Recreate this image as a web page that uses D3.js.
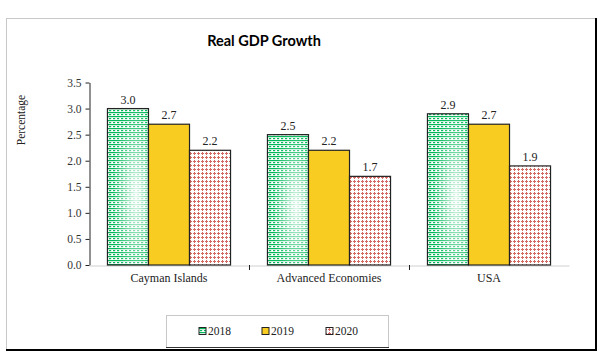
<!DOCTYPE html>
<html><head><meta charset="utf-8">
<script src="https://cdn.jsdelivr.net/npm/d3@7"></script>
<style>body{margin:0;background:#fff}svg{display:block}</style>
</head><body>
<script>
const categories = ["Cayman Islands", "Advanced Economies", "USA"];
const seriesNames = ["2018", "2019", "2020"];
const values2018 = [3.0, 2.5, 2.9];
const values2019 = [2.7, 2.2, 2.7];
const values2020 = [2.2, 1.7, 1.9];
const yTicks = [0, 0.5, 1.0, 1.5, 2.0, 2.5, 3.0, 3.5];
const seriesValues = [values2018, values2019, values2020];

const W = 605, H = 359;
const svg = d3.select("body").append("svg").attr("width", W).attr("height", H);
const defs = svg.append("defs");

// 2018 pattern: green lines + dashes
const p1 = defs.append("pattern").attr("id", "p2018").attr("patternUnits", "userSpaceOnUse").attr("width", 4).attr("height", 4);
p1.append("rect").attr("width", 4).attr("height", 4).attr("fill", "#fff");
p1.append("rect").attr("x", 0).attr("y", 0).attr("width", 4).attr("height", 1.2).attr("fill", "#00b858");
p1.append("rect").attr("x", 0).attr("y", 2).attr("width", 2.2).attr("height", 1.2).attr("fill", "#00b858");
const g1 = defs.append("radialGradient").attr("id", "glow").attr("cx", "0.7").attr("cy", "0.55").attr("r", "0.6");
g1.append("stop").attr("offset", "0").attr("stop-color", "#fff").attr("stop-opacity", 0.9);
g1.append("stop").attr("offset", "0.6").attr("stop-color", "#fff").attr("stop-opacity", 0.35);
g1.append("stop").attr("offset", "1").attr("stop-color", "#fff").attr("stop-opacity", 0);

// 2020 pattern: red crosses
const p3 = defs.append("pattern").attr("id", "p2020").attr("patternUnits", "userSpaceOnUse").attr("width", 4).attr("height", 4);
p3.append("rect").attr("width", 4).attr("height", 4).attr("fill", "#fff");
p3.append("rect").attr("x", 0).attr("y", 1).attr("width", 3).attr("height", 1).attr("fill", "#d46a66");
p3.append("rect").attr("x", 1).attr("y", 0).attr("width", 1).attr("height", 3).attr("fill", "#d46a66");

const fills = ["url(#p2018)", "#f9cc22", "url(#p2020)"];

// frame
svg.append("line").attr("x1", 6).attr("x2", 597).attr("y1", 18.5).attr("y2", 18.5).attr("stroke", "#c8c8c8");
svg.append("line").attr("x1", 6.5).attr("x2", 6.5).attr("y1", 18).attr("y2", 350).attr("stroke", "#c8c8c8");
svg.append("line").attr("x1", 596).attr("x2", 596).attr("y1", 18).attr("y2", 351).attr("stroke", "#000").attr("stroke-width", 2);
svg.append("line").attr("x1", 6).attr("x2", 597).attr("y1", 350).attr("y2", 350).attr("stroke", "#000").attr("stroke-width", 2);

// title
svg.append("text").attr("x", 264).attr("y", 46).attr("text-anchor", "middle")
  .attr("font-family", "Lato, 'Open Sans', sans-serif").attr("font-weight", "bold").attr("font-size", 14.5)
  .attr("fill", "#000").text("Real GDP Growth");

const x0 = d3.scaleBand().domain(categories).range([89, 569]).paddingInner(0).paddingOuter(0);
const x1 = d3.scaleBand().domain(seriesNames).range([0, x0.bandwidth()]).paddingInner(0).paddingOuter(0.45);
const y = d3.scaleLinear().domain([0, 3.5]).range([265, 82.5]);

const serif = "'Liberation Serif', 'DejaVu Serif', serif";

// y axis
const yAxis = svg.append("g").attr("transform", "translate(89.5,0)")
  .call(d3.axisLeft(y).tickValues(yTicks).tickFormat(d3.format(".1f")).tickSize(4).tickSizeOuter(0));
yAxis.select(".domain").attr("stroke", "#222");
yAxis.selectAll(".tick line").attr("stroke", "#222");
yAxis.selectAll("text").attr("font-family", serif).attr("font-size", 11.5).attr("fill", "#333").attr("x", -8);

// x axis
const xAxis = svg.append("g").attr("transform", "translate(0,265.5)")
  .call(d3.axisBottom(x0).tickSize(0).tickSizeOuter(0));
xAxis.select(".domain").attr("stroke", "#d0d0d0");
xAxis.selectAll("text").attr("font-family", serif).attr("font-size", 12).attr("fill", "#222").attr("dy", "0").attr("y", 16);
// category boundary ticks
svg.append("g").selectAll("line").data(categories.slice(1)).join("line")
  .attr("x1", d => Math.round(x0(d)) + 0.5).attr("x2", d => Math.round(x0(d)) + 0.5)
  .attr("y1", 265).attr("y2", 270).attr("stroke", "#222");

// y label
svg.append("text").attr("transform", "translate(25,120) rotate(-90)").attr("text-anchor", "middle")
  .attr("font-family", serif).attr("font-size", 11.5).attr("fill", "#222").text("Percentage");

// bars
const groups = svg.append("g").selectAll("g").data(categories).join("g")
  .attr("transform", d => `translate(${x0(d)},0)`);
groups.each(function(cat, ci) {
  const g = d3.select(this);
  seriesNames.forEach((s, si) => {
    const v = seriesValues[si][ci];
    const bx = x1(s), bw = x1.bandwidth();
    g.append("rect").attr("x", bx).attr("y", y(v)).attr("width", bw).attr("height", y(0) - y(v))
      .attr("fill", fills[si]);
    if (si === 0) {
      g.append("rect").attr("x", bx).attr("y", y(v)).attr("width", bw).attr("height", y(0) - y(v))
        .attr("fill", "url(#glow)");
    }
    g.append("rect").attr("x", bx).attr("y", y(v)).attr("width", bw).attr("height", y(0) - y(v))
      .attr("fill", "none").attr("stroke", "#222").attr("stroke-width", 1.2);
    g.append("text").attr("x", bx + bw / 2).attr("y", y(v) - 5).attr("text-anchor", "middle")
      .attr("font-family", serif).attr("font-size", 12).attr("fill", "#222").text(v.toFixed(1));
  });
});

// legend
svg.append("rect").attr("x", 166.5).attr("y", 315.5).attr("width", 222).attr("height", 32)
  .attr("fill", "#fff").attr("stroke", "#c8c8c8");
svg.append("line").attr("x1", 166).attr("x2", 389).attr("y1", 347.5).attr("y2", 347.5).attr("stroke", "#333");
const legX = [199, 262, 326];
seriesNames.forEach((s, i) => {
  svg.append("rect").attr("x", legX[i]).attr("y", 327.5).attr("width", 7).attr("height", 7)
    .attr("fill", fills[i]).attr("stroke", "#222");
  svg.append("text").attr("x", legX[i] + 9).attr("y", 335).attr("font-family", serif).attr("font-size", 11.5)
    .attr("fill", "#222").text(s);
});
</script>
</body></html>
